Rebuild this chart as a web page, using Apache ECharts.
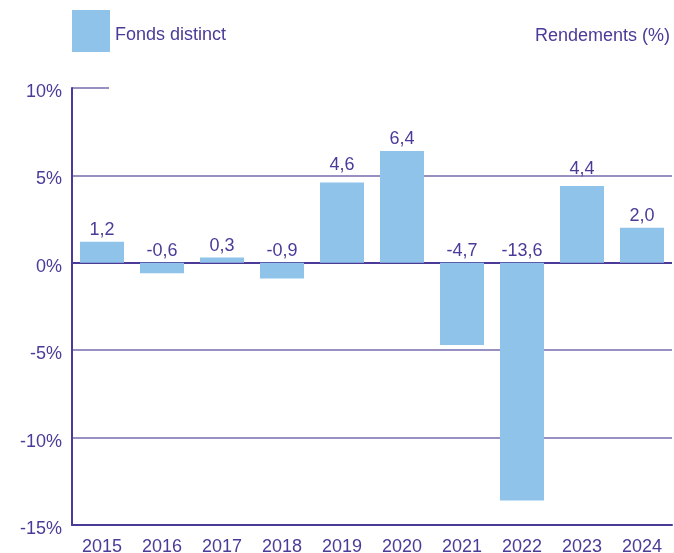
<!DOCTYPE html>
<html>
<head>
<meta charset="utf-8">
<script src="https://cdn.jsdelivr.net/npm/echarts@6/dist/echarts.min.js"></script>
<style>
  html, body { margin: 0; padding: 0; background: #fff; }
  #chart { width: 674px; height: 553px; }
</style>
</head>
<body>
<div id="chart"></div>
<script>
const years = ['2015', '2016', '2017', '2018', '2019', '2020', '2021', '2022', '2023', '2024']
const rendements = [1.2, -0.6, 0.3, -0.9, 4.6, 6.4, -4.7, -13.6, 4.4, 2.0]
const seriesName = 'Fonds distinct'

const purple = '#4b3a98'
const lightPurple = '#9a8fc2'
const barColor = '#8fc3e9'
const font = 'Liberation Sans, Arial, sans-serif'

const chart = echarts.init(document.getElementById('chart'))

// les étiquettes juste sous la ligne des 5 % passent au-dessus de la ligne
const barData = rendements.map((v) => (v > 4 && v < 5 ? { value: v, label: { distance: 8 } } : v))

const option = {
  animation: false,
  textStyle: { fontFamily: font },
  title: {
    text: 'Rendements (%)',
    right: 4,
    top: 27,
    padding: 0,
    textStyle: { color: purple, fontSize: 18, fontWeight: 'normal', fontFamily: font },
  },
  legend: {
    data: [seriesName],
    left: 72,
    top: 10,
    padding: 0,
    itemWidth: 38,
    itemHeight: 42,
    icon: 'rect',
    formatter: '{a|{name}}',
    textStyle: {
      color: purple, fontSize: 18, fontFamily: font,
      rich: { a: { color: purple, fontSize: 18, fontFamily: font, padding: [8, 0, 0, 0] } },
    },
  },
  grid: { left: 72, right: 2, top: 88, bottom: 28, outerBoundsMode: 'none' },
  xAxis: {
    type: 'category',
    data: years,
    axisLine: { onZero: false, lineStyle: { color: purple, width: 2 } },
    axisTick: { show: false },
    axisLabel: { color: purple, fontSize: 18, margin: 13, fontFamily: font },
  },
  yAxis: {
    type: 'value',
    min: -15,
    max: 10,
    interval: 5,
    axisLine: { show: true, lineStyle: { color: purple, width: 2 } },
    axisTick: { show: false },
    axisLabel: {
      color: purple, fontSize: 18, margin: 10, fontFamily: font,
      verticalAlign: 'top', lineHeight: 8,
      formatter: '{value}%',
    },
    // lignes : -15, -10, -5, 0, 5, 10
    splitLine: {
      show: true,
      lineStyle: { color: ['transparent', lightPurple, lightPurple, purple, lightPurple, 'transparent'], width: 2 },
    },
  },
  graphic: [
    {
      type: 'line',
      shape: { x1: 72, y1: 88, x2: 109, y2: 88 },
      style: { stroke: lightPurple, lineWidth: 2 },
    },
  ],
  series: [
    {
      name: seriesName,
      type: 'bar',
      data: barData,
      barWidth: 44,
      itemStyle: { color: barColor },
      label: {
        show: true,
        position: 'top',
        distance: 3,
        color: purple,
        fontSize: 18,
        fontFamily: font,
        formatter: (p) => p.value.toFixed(1).replace('.', ','),
      },
    },
  ],
}

chart.setOption(option)
</script>
</body>
</html>
